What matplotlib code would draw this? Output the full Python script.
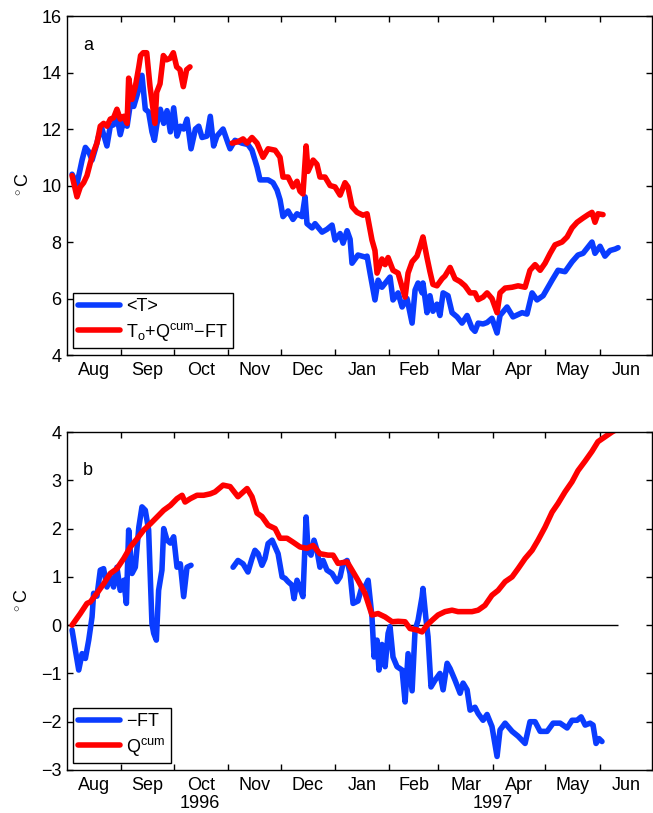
import numpy as np
import matplotlib.pyplot as plt
from matplotlib.ticker import NullFormatter
import matplotlib.transforms as mtransforms

plt.rcParams['font.family'] = ['Liberation Sans', 'DejaVu Sans']
plt.rcParams['mathtext.fontset'] = 'custom'
plt.rcParams['mathtext.rm'] = 'Liberation Sans'
plt.rcParams['mathtext.it'] = 'Liberation Sans:italic'

BLUE = '#0a3cff'
RED = '#ff0000'
FS = 13

# Time axis: days since 1 Aug 1996
START = np.datetime64('1996-08-01')
month_starts = np.arange('1996-08', '1997-08', dtype='datetime64[M]').astype('datetime64[D]')
month_days = (month_starts - START).astype(int)
month_names = ['Aug', 'Sep', 'Oct', 'Nov', 'Dec', 'Jan', 'Feb', 'Mar', 'Apr', 'May', 'Jun']
year_labels = ['1996', '1997']
year_label_days = [76, 243]

# ---- panel a: mean temperature <T> ----
T_day = [2.9, 5.7, 8.6, 10.5, 12.4, 14.3, 16.2, 18.1, 20.0, 21.9, 22.8, 24.7, 26.6, 28.5,
         30.4, 32.4, 34.3, 36.2, 38.1, 40.0, 42.8, 44.7, 46.6, 48.5, 49.9, 51.4, 53.3, 55.2,
         57.1, 59.0, 60.9, 62.8, 64.7, 66.6, 68.5, 70.8, 73.3, 75.2, 77.1, 79.9, 81.8, 83.7,
         85.6, 89.1, 91.9, 93.1, 95.9, 99.9, 103.3, 105.6, 108.5, 110.2, 114.8, 117.6, 119.9,
         121.6, 123.3, 126.2, 129.0, 131.3, 134.2, 135.9, 137.0, 139.9, 141.6, 145.6, 148.4,
         151.3, 153.0, 155.9, 157.6, 159.9, 161.6, 162.7, 166.1, 170.1, 171.3, 173.0, 175.8,
         177.6, 179.8, 184.4, 186.1, 189.0, 191.3, 194.1, 197.0, 198.7, 200.4, 202.7, 203.2,
         205.5, 207.2, 208.9, 211.2, 212.9, 214.7, 217.5, 219.8, 222.7, 225.5, 228.4, 231.2,
         232.9, 234.7, 237.5, 239.8, 242.6, 245.5, 247.2, 251.2, 254.6, 259.8, 262.6, 265.5,
         268.3, 271.8, 276.9, 280.3, 284.3, 288.3, 291.7, 294.6, 299.7, 301.4, 304.3, 307.1,
         310.0, 312.9, 314.6]
T_mean = [10.4, 10.05, 10.9, 11.35, 11.2, 10.9, 11.3, 11.75, 12.0, 11.6, 11.4, 12.1, 12.15, 12.47,
          11.8, 12.3, 12.1, 12.9, 12.8, 13.2, 13.9, 12.7, 12.6, 11.9, 11.6, 12.2, 12.7, 12.2,
          12.65, 11.9, 12.75, 11.75, 12.1, 12.0, 12.35, 11.3, 12.0, 12.1, 11.7, 11.75, 12.45, 11.4,
          11.75, 12.0, 11.5, 11.3, 11.6, 11.5, 11.45, 11.25, 10.65, 10.2, 10.2, 10.1, 9.84,
          9.5, 8.9, 9.1, 8.8, 9.0, 8.9, 9.6, 8.65, 8.5, 8.65, 8.35, 8.45,
          8.6, 8.07, 8.3, 7.96, 8.4, 8.1, 7.25, 7.54, 7.47, 7.5, 6.9, 5.95,
          6.65, 6.4, 6.76, 5.95, 6.2, 5.7, 6.0, 5.13, 6.3, 6.55, 6.2, 6.55,
          5.5, 6.1, 5.55, 5.8, 5.4, 6.2, 6.1, 5.5, 5.35, 5.13, 5.4, 4.95,
          4.84, 5.13, 5.1, 5.15, 5.3, 4.78, 5.4, 5.7, 5.35, 5.5, 5.45, 6.2,
          5.95, 6.1, 6.65, 7.0, 6.95, 7.3, 7.54, 7.6, 8.0, 7.6, 7.85, 7.5,
          7.7, 7.75, 7.8]

# ---- panel a: To + Qcum - FT (two records) ----
Tp1_day = [2.9, 5.7, 7.6, 9.5, 11.4, 13.3, 15.2, 17.1, 19.0, 20.9, 22.8, 24.7, 26.6, 28.5,
           30.4, 32.4, 34.3, 35.2, 37.1, 39.0, 41.0, 42.0, 43.5, 45.5, 47.4, 50.2, 51.2, 53.1,
           55.0, 56.9, 58.8, 60.7, 62.6, 64.5, 66.4, 68.3, 70.2]
Tp1_val = [10.35, 9.6, 9.95, 10.1, 10.35, 10.8, 11.2, 11.5, 12.1, 12.2, 12.1, 12.35, 12.4, 12.7,
           12.35, 12.45, 12.2, 13.8, 13.05, 13.5, 14.2, 14.6, 14.7, 14.7, 13.5, 12.2, 13.3, 13.6,
           14.6, 14.45, 14.5, 14.7, 14.2, 14.1, 13.5, 14.1, 14.2]
Tp2_day = [94.2, 97.6, 100.5, 102.8, 105.6, 108.5, 111.9, 114.8, 118.8, 121.6, 123.3, 126.2,
           129.0, 131.3, 133.0, 134.7, 136.5, 137.6, 140.5, 142.7, 144.4, 147.3, 150.2, 153.0,
           155.9, 158.7, 160.4, 162.7, 165.6, 169.0, 171.3, 174.1, 175.8, 177.0, 179.8, 181.6,
           183.3, 186.1, 189.0, 191.3, 193.0, 194.7, 197.0, 199.8, 201.5, 203.2, 205.5, 207.2,
           208.9, 211.2, 214.1, 215.8, 218.7, 221.5, 224.4, 227.2, 230.1, 232.9, 234.7, 237.5,
           239.8, 242.6, 245.5, 247.2, 250.1, 254.1, 257.5, 261.5, 264.3, 267.2, 270.1, 272.9,
           275.8, 278.6, 282.6, 285.5, 288.3, 291.2, 294.6, 297.5, 299.7, 301.4, 303.1, 306.0]
Tp2_val = [11.5, 11.55, 11.65, 11.5, 11.7, 11.5, 11.0, 11.3, 11.25, 11.0, 10.3, 10.3,
           9.95, 10.15, 9.8, 9.7, 11.4, 10.5, 10.9, 10.75, 10.3, 10.3, 10.0, 9.95,
           9.66, 10.1, 9.95, 9.25, 9.05, 8.95, 9.0, 8.07, 7.7, 6.9, 7.4, 7.2,
           7.45, 7.0, 6.9, 6.4, 6.05, 6.9, 7.3, 7.5, 7.83, 8.18, 7.45, 6.95,
           6.5, 6.45, 6.7, 6.8, 7.1, 6.7, 6.6, 6.45, 6.2, 6.2, 5.96, 6.05,
           6.2, 6.0, 5.5, 6.2, 6.37, 6.4, 6.45, 6.4, 7.0, 7.2, 7.0, 7.25,
           7.6, 7.9, 8.0, 8.18, 8.5, 8.7, 8.85, 8.97, 9.05, 8.7, 9.0, 8.97]

# ---- panel b: -FT (two records) ----
FT1_day = [2.9, 4.8, 6.7, 8.6, 10.5, 12.4, 14.3, 15.2, 17.1, 19.0, 20.9, 22.8, 24.7, 26.6,
           28.5, 30.4, 32.4, 33.9, 35.2, 37.1, 39.0, 41.0, 42.8, 44.7, 46.6, 48.5, 49.5, 51.0,
           52.3, 54.2, 55.2, 57.1, 59.0, 60.9, 62.8, 64.7, 66.6, 68.5, 70.8]
FT1_val = [-0.1, -0.52, -0.93, -0.59, -0.69, -0.31, 0.17, 0.66, 0.6, 1.14, 1.17, 0.79, 1.0, 0.79,
           1.2, 0.72, 0.93, 0.45, 1.97, 1.07, 1.2, 2.03, 2.45, 2.38, 1.97, 0.03, -0.17, -0.31,
           0.72, 1.14, 2.0, 1.76, 1.7, 1.83, 1.2, 1.27, 0.59, 1.2, 1.24]
FT2_day = [94.8, 97.6, 100.5, 103.3, 105.6, 107.3, 109.1, 111.3, 113.0, 114.8, 117.1, 118.8,
           120.5, 122.8, 124.5, 126.2, 128.4, 129.6, 131.3, 133.0, 134.7, 136.5, 137.6, 139.3,
           141.0, 142.7, 144.4, 146.2, 148.4, 151.3, 154.1, 155.9, 157.6, 159.9, 161.6, 163.3,
           166.1, 168.4, 170.1, 171.9, 174.1, 175.3, 177.0, 178.1, 179.8, 181.6, 183.3, 184.4,
           186.1, 188.4, 191.3, 193.0, 194.7, 197.0, 198.7, 200.4, 202.7, 203.2, 205.0, 206.1,
           207.8, 210.1, 212.9, 214.7, 217.0, 218.7, 221.5, 224.4, 226.1, 228.4, 230.1, 232.9,
           234.7, 237.5, 239.8, 242.6, 245.5, 247.2, 250.1, 254.1, 257.5, 261.5, 264.3, 267.2,
           270.1, 274.1, 277.5, 281.5, 285.5, 288.3, 291.2, 293.5, 295.8, 298.6, 300.3, 302.0,
           303.7, 305.4]
FT2_val = [1.2, 1.34, 1.27, 1.1, 1.38, 1.55, 1.48, 1.24, 1.38, 1.69, 1.76, 1.62,
           1.48, 1.0, 0.97, 0.9, 0.83, 0.55, 0.93, 0.76, 0.59, 2.24, 1.55, 1.45,
           1.76, 1.55, 1.2, 1.34, 1.14, 1.07, 0.9, 1.0, 1.28, 1.34, 1.07, 0.45,
           0.5, 0.8, 0.79, 0.93, 0.17, -0.66, -0.31, -0.93, -0.4, -0.86, -0.17, -0.03,
           -0.66, -0.86, -0.93, -1.59, -0.59, -1.36, -0.1, 0.1, 0.59, 0.76, 0.1, -0.24,
           -1.28, -1.14, -1.0, -1.34, -0.79, -0.9, -1.14, -1.41, -1.2, -1.34, -1.76, -1.7,
           -1.83, -1.97, -1.85, -2.1, -2.72, -2.17, -2.03, -2.2, -2.3, -2.45, -2.0, -2.0,
           -2.2, -2.2, -2.03, -2.03, -2.13, -1.97, -1.97, -1.9, -2.07, -2.03, -2.07, -2.45,
           -2.35, -2.41]

# ---- panel b: cumulative surface flux Qcum ----
Q_day = [2.9, 7.6, 11.4, 13.3, 17.1, 21.0, 24.7, 28.5, 32.4, 36.2, 40.0, 43.8, 47.6, 51.4,
         55.2, 59.0, 62.8, 65.7, 67.4, 70.4, 74.2, 78.0, 81.8, 84.5, 89.1, 93.1, 97.6, 102.8,
         105.6, 108.5, 111.3, 114.8, 118.8, 121.6, 125.6, 129.0, 133.0, 137.0, 140.5, 144.4,
         149.0, 151.9, 154.7, 159.9, 162.7, 166.1, 170.1, 174.1, 177.6, 181.6, 185.6, 189.0,
         193.0, 195.8, 199.8, 202.7, 205.5, 208.4, 211.8, 215.8, 219.8, 223.2, 227.2, 231.2,
         234.7, 238.6, 242.6, 246.1, 250.1, 254.1, 257.5, 261.5, 265.5, 268.9, 272.9, 276.9,
         280.3, 284.3, 288.3, 291.7, 295.8, 299.7, 303.1, 307.1, 311.1, 313.5]
Q_cum = [0.0, 0.24, 0.45, 0.48, 0.66, 0.86, 1.07, 1.17, 1.38, 1.62, 1.79, 1.97, 2.1, 2.24,
         2.38, 2.48, 2.62, 2.69, 2.55, 2.62, 2.69, 2.69, 2.72, 2.76, 2.9, 2.87, 2.66, 2.83,
         2.66, 2.32, 2.25, 2.07, 2.0, 1.8, 1.8, 1.72, 1.62, 1.59, 1.65, 1.48,
         1.45, 1.45, 1.28, 1.31, 1.14, 0.93, 0.66, 0.21, 0.24, 0.17, 0.07, 0.08,
         0.07, -0.07, -0.1, -0.14, 0.0, 0.1, 0.21, 0.28, 0.31, 0.28, 0.28, 0.28,
         0.31, 0.41, 0.62, 0.72, 0.9, 1.0, 1.17, 1.38, 1.55, 1.76, 2.03, 2.34,
         2.52, 2.76, 2.97, 3.2, 3.4, 3.6, 3.8, 3.9, 4.0, 4.05]
zero_line_end = 314.6


def style_axes(ax):
    ax.set_xlim(month_days[0], month_days[-1])
    ax.set_xticks(month_days[1:-1])
    ax.xaxis.set_major_formatter(NullFormatter())
    ax.set_xticks(0.5 * (month_days[:-1] + month_days[1:]), minor=True)
    ax.set_xticklabels(month_names, minor=True)
    ax.tick_params(which='major', direction='in', length=4, width=1,
                   top=True, right=True, labelsize=FS, pad=4)
    ax.tick_params(axis='x', which='minor', length=0, labelsize=FS, pad=5)
    ax.tick_params(axis='y', which='minor', left=False, right=False)
    for s in ax.spines.values():
        s.set_linewidth(1.0)
    ax.set_ylabel(r'$^\circ$C', fontsize=FS, labelpad=7)


line_kw = dict(linewidth=4.0, solid_capstyle='round', solid_joinstyle='round')
legend_kw = dict(loc='lower left', borderaxespad=0, fontsize=FS, fancybox=False,
                 edgecolor='black', framealpha=1, handlelength=2.3, handletextpad=0.35,
                 borderpad=0.3, labelspacing=0.3)

fig = plt.figure(figsize=(6.53, 8.13), dpi=100)
ax1 = fig.add_axes([0.1026, 0.5633, 0.896, 0.417])
ax2 = fig.add_axes([0.1026, 0.0529, 0.896, 0.4157])

# panel a
ax1.plot(T_day, T_mean, color=BLUE, label='<T>', **line_kw)
ax1.plot(Tp1_day, Tp1_val, color=RED, label=r'T$_\mathregular{o}$+Q$^\mathregular{cum}$$-$FT', **line_kw)
ax1.plot(Tp2_day, Tp2_val, color=RED, **line_kw)
ax1.set_ylim(4, 16)
ax1.set_yticks(np.arange(4, 17, 2))
style_axes(ax1)
ax1.text(0.027, 0.912, 'a', transform=ax1.transAxes, fontsize=FS, va='center')
leg = ax1.legend(bbox_to_anchor=(0.0103, 0.0206), **legend_kw)
leg.get_frame().set_linewidth(1.0)

# panel b
ax2.hlines(0, month_days[0], zero_line_end, color='black', linewidth=1.0)
ax2.plot(FT1_day, FT1_val, color=BLUE, label=r'$-$FT', **line_kw)
ax2.plot(FT2_day, FT2_val, color=BLUE, **line_kw)
ax2.plot(Q_day, Q_cum, color=RED, label=r'Q$^\mathregular{cum}$', **line_kw)
ax2.set_ylim(-3, 4)
ax2.set_yticks(np.arange(-3, 5, 1))
style_axes(ax2)
ax2.text(0.027, 0.885, 'b', transform=ax2.transAxes, fontsize=FS, va='center')
leg = ax2.legend(bbox_to_anchor=(0.0103, 0.0207), **legend_kw)
leg.get_frame().set_linewidth(1.0)

# year labels under the month axis
trans = mtransforms.blended_transform_factory(ax2.transData, ax2.transAxes)
for lab, d in zip(year_labels, year_label_days):
    ax2.text(d, -0.1, lab, transform=trans, fontsize=FS, ha='center', va='center')

fig.savefig('out.png', dpi=100)
